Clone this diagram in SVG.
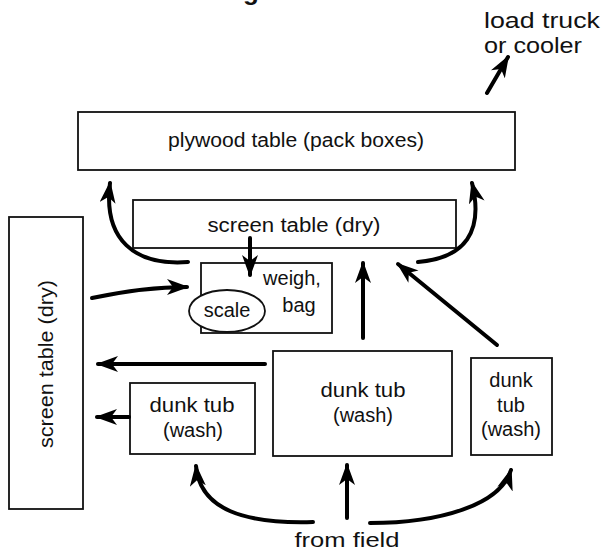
<svg xmlns="http://www.w3.org/2000/svg" width="605" height="554" viewBox="0 0 605 554">
<style>
  .box { fill: #ffffff; stroke: #111111; stroke-width: 1.8; }
  .lbl { font-family: "Liberation Sans", "DejaVu Sans", sans-serif; font-size: 20px; fill: #111111; text-anchor: middle; }
  .conn { fill: none; stroke: #000000; stroke-width: 4; stroke-linecap: round; marker-end: url(#head); }
</style>
<defs>
  <marker id="head" markerUnits="userSpaceOnUse" markerWidth="22" markerHeight="16" refX="20" refY="8" orient="auto" viewBox="0 0 22 16">
    <path d="M0,0 L22,8 L0,16 L6,8 z" fill="#000000"/>
  </marker>
</defs>
<rect width="605" height="554" fill="#ffffff"/>

<text x="243" y="0" font-family="Liberation Sans, sans-serif" font-weight="bold" font-size="26" fill="#111111">g</text>

<g id="plywood-table">
  <rect class="box" x="78" y="112" width="437" height="58"/>
  <text class="lbl" x="296" y="147" textLength="256" lengthAdjust="spacingAndGlyphs">plywood table (pack boxes)</text>
</g>
<g id="screen-table-top">
  <rect class="box" x="133" y="200" width="323" height="48"/>
  <text class="lbl" x="294" y="232" textLength="173" lengthAdjust="spacingAndGlyphs">screen table (dry)</text>
</g>
<g id="weigh-bag">
  <rect class="box" x="201" y="263" width="131" height="70"/>
  <text class="lbl" x="292" y="285">weigh,</text>
  <text class="lbl" x="299" y="312">bag</text>
</g>
<g id="scale">
  <ellipse class="box" cx="227" cy="311" rx="38" ry="21"/>
  <text class="lbl" x="227" y="317">scale</text>
</g>
<g id="screen-table-left">
  <rect class="box" x="9" y="217" width="74" height="292"/>
  <text class="lbl" transform="translate(53,364) rotate(-90)" x="0" y="0" textLength="168" lengthAdjust="spacingAndGlyphs">screen table (dry)</text>
</g>
<g id="dunk-tub-left">
  <rect class="box" x="130" y="383" width="125" height="71"/>
  <text class="lbl" x="192" y="412" textLength="85" lengthAdjust="spacingAndGlyphs">dunk tub</text>
  <text class="lbl" x="193" y="437">(wash)</text>
</g>
<g id="dunk-tub-middle">
  <rect class="box" x="273" y="351" width="179" height="105"/>
  <text class="lbl" x="363" y="397" textLength="85" lengthAdjust="spacingAndGlyphs">dunk tub</text>
  <text class="lbl" x="363" y="422">(wash)</text>
</g>
<g id="dunk-tub-right">
  <rect class="box" x="471" y="358" width="81" height="97"/>
  <text class="lbl" x="511" y="387">dunk</text>
  <text class="lbl" x="511" y="412">tub</text>
  <text class="lbl" x="511" y="436">(wash)</text>
</g>
<g id="load-truck">
  <text class="lbl" x="484" y="28" style="text-anchor:start;font-size:22px" textLength="116" lengthAdjust="spacingAndGlyphs">load truck</text>
  <text class="lbl" x="484" y="53" style="text-anchor:start;font-size:22px" textLength="98" lengthAdjust="spacingAndGlyphs">or cooler</text>
</g>
<g id="from-field">
  <text class="lbl" x="347" y="547" textLength="105" lengthAdjust="spacingAndGlyphs">from field</text>
</g>

<g id="connectors">
  <path class="conn" d="M487,93 L508,57"/>
  <path class="conn" d="M188,262 C135,266 103,240 110,183"/>
  <path class="conn" d="M418,262 C465,258 484,232 472,183"/>
  <path class="conn" d="M250,238 L250,275"/>
  <path class="conn" d="M92,298 C130,290 160,287 187,287"/>
  <path class="conn" d="M363,338 L363,263"/>
  <path class="conn" d="M497,345 L398,264"/>
  <path class="conn" d="M265,364 L98,364"/>
  <path class="conn" d="M129,417 L97,417"/>
  <path class="conn" d="M313,522 C245,524 200,510 196,466"/>
  <path class="conn" d="M347,518 L347,465"/>
  <path class="conn" d="M370,523 C440,523 500,505 511,470"/>
</g>
</svg>
